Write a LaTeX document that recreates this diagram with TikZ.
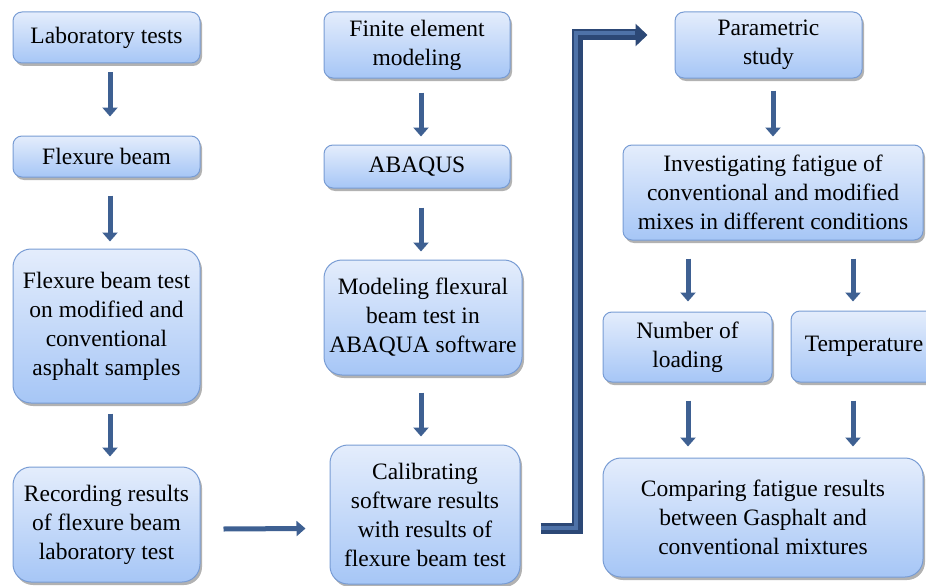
\documentclass[tikz,border=0pt]{standalone}
\usepackage{fontspec}
\setmainfont{Liberation Serif}
\newfontfamily\boxfont{Liberation Serif}
\usetikzlibrary{arrows.meta,shadows,calc}
\definecolor{boxtop}{RGB}{228,237,252}
\definecolor{boxbot}{RGB}{166,198,246}
\definecolor{boxline}{RGB}{120,156,212}
\definecolor{arrcol}{RGB}{62,96,146}
\definecolor{arrdark}{RGB}{44,72,118}
\definecolor{arrlight}{RGB}{78,114,168}
\begin{document}
\begin{tikzpicture}[x=1pt,y=-1pt,
  flowbox/.style={draw=boxline, line width=1pt, rounded corners=9pt,
    top color=boxtop, bottom color=boxbot, align=center, inner sep=0pt,
    font=\boxfont\fontsize{23.5}{29}\selectfont,
    drop shadow={shadow xshift=2pt, shadow yshift=-3pt, opacity=0.3, fill=black}},
  tallbox/.style={flowbox, rounded corners=18pt},
  arr/.style={draw=arrcol, line width=5pt, -{Triangle[width=15pt,length=9pt]}},
]
\useasboundingbox (0,0) rectangle (926,586);
\clip (0,0) rectangle (926,586);
% left column
\node[flowbox, minimum width=187pt, minimum height=51pt] (lab) at (106.5,37.5) {Laboratory tests};
\node[flowbox, minimum width=187pt, minimum height=41pt] (flex) at (106.5,156.5) {Flexure beam};
\node[tallbox, minimum width=187pt, minimum height=154pt] (fbt) at (106.5,326) {Flexure beam test\\on modified and\\conventional\\asphalt samples};
\node[tallbox, minimum width=187pt, minimum height=115pt] (rec) at (106.5,524.5) {Recording results\\of flexure beam\\laboratory test};
% middle column
\node[flowbox, minimum width=186pt, minimum height=66pt] (fem) at (417,45) {Finite element\\modeling};
\node[flowbox, minimum width=186pt, minimum height=43pt] (abq) at (417,166.5) {ABAQUS};
\node[tallbox, minimum width=198pt, minimum height=115pt] (mod) at (423,317.5) {Modeling flexural\\beam test in\\ABAQUA software};
\node[tallbox, minimum width=190pt, minimum height=139pt] (cal) at (425,514.5) {Calibrating\\software results\\with results of\\flexure beam test};
% right column
\node[flowbox, minimum width=187pt, minimum height=66pt] (par) at (768.5,45) {Parametric\\study};
\node[flowbox, minimum width=300pt, minimum height=95pt] (inv) at (773,192.5) {Investigating fatigue of\\conventional and modified\\mixes in different conditions};
\node[flowbox, minimum width=169pt, minimum height=70pt] (num) at (687.5,347) {Number of\\loading};
\node[flowbox, minimum width=146pt, minimum height=71pt] (tmp) at (864,346.5) {Temperature};
\node[tallbox, minimum width=320pt, minimum height=119pt] (cmp) at (763,517.5) {Comparing fatigue results\\between Gasphalt and\\conventional mixtures};
% vertical arrows
\draw[arr] ([xshift=3.5pt,yshift=-9pt]lab.south) -- ([xshift=3.5pt,yshift=19pt]flex.north);
\draw[arr] ([xshift=3.5pt,yshift=-18pt]flex.south) -- ([xshift=3.5pt,yshift=7pt]fbt.north);
\draw[arr] ([xshift=3.5pt,yshift=-10pt]fbt.south) -- ([xshift=3.5pt,yshift=10pt]rec.north);
\draw[arr] ([xshift=4pt,yshift=-14pt]fem.south) -- ([xshift=4pt,yshift=8pt]abq.north);
\draw[arr] ([xshift=4pt,yshift=-19pt]abq.south) -- ([xshift=-2pt,yshift=8pt]mod.north);
\draw[arr] ([xshift=-2pt,yshift=-17pt]mod.south) -- ([xshift=-4pt,yshift=8pt]cal.north);
\draw[arr] ([xshift=4.5pt,yshift=-12pt]par.south) -- ([xshift=0pt,yshift=8pt]inv.north);
\draw[arr] ([xshift=-85pt,yshift=-18pt]inv.south) -- ([xshift=0.5pt,yshift=10pt]num.north);
\draw[arr] ([xshift=80pt,yshift=-18pt]inv.south) -- ([xshift=-11pt,yshift=9pt]tmp.north);
\draw[arr] ([xshift=0.5pt,yshift=-18pt]num.south) -- ([xshift=-75pt,yshift=11pt]cmp.north);
\draw[arr] ([xshift=-11pt,yshift=-18pt]tmp.south) -- ([xshift=90pt,yshift=11pt]cmp.north);
% horizontal arrow
\draw[arr] ([xshift=23pt,yshift=-4.5pt]rec.east) -- ([xshift=-24pt,yshift=-14pt]cal.west);
% elbow arrow
\draw[draw=arrdark, line width=11pt, -{Triangle[width=22pt,length=12pt]}]
  ([xshift=20pt,yshift=-13.5pt]cal.east) -- ++(37,0) |- ([xshift=-27pt,yshift=10pt]par.west);
\draw[draw=arrlight, line width=4pt]
  ([xshift=20pt,yshift=-13.5pt]cal.east) -- ++(35,0) |- ([xshift=-40pt,yshift=12pt]par.west);
\end{tikzpicture}
\end{document}
